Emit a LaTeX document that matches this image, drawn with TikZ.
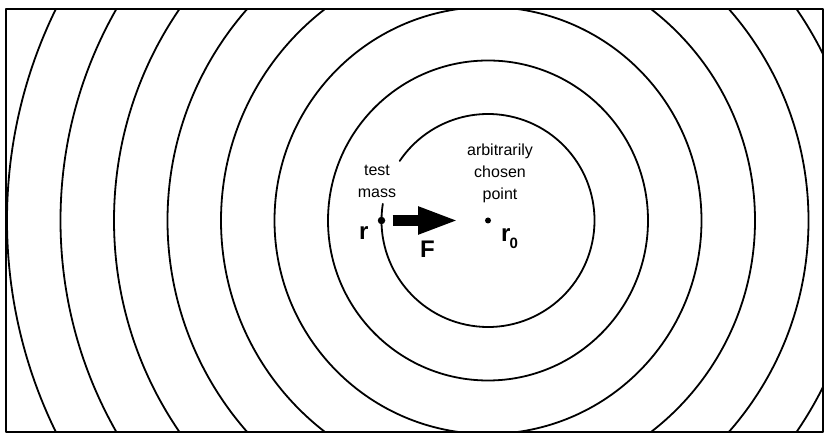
\documentclass[tikz,border=0pt]{standalone}
\usepackage{fontspec}
\setmainfont{Liberation Sans}
\usepackage{tikz}
\usetikzlibrary{arrows.meta,calc,positioning}
\tikzset{
  shell/.style={line width=1.8pt},
  dotm/.style={circle, fill, inner sep=0pt, minimum size=7.5pt},
  dotp/.style={circle, fill, inner sep=0pt, minimum size=6pt},
  lbl/.style={align=center, font=\fontsize{16}{22}\selectfont, inner sep=0pt},
  vec/.style={font=\fontsize{24}{24}\selectfont\bfseries, inner sep=0pt},
  every picture/.style={line cap=round, line join=round}
}

\begin{document}
\begin{tikzpicture}[x=1pt,y=1pt]
  \useasboundingbox (0,0) rectangle (824,433);
  \coordinate (C) at (488,212.5);

  % Frame
  \draw[line width=1.5pt] (6,1) rectangle (823,424);

  % Outer circles, clipped by the frame
  \begin{scope}
    \clip (6,1) rectangle (823,424);
    \foreach \k in {1,...,7}
      \draw[shell] (C) circle[radius=106.5+53.5*\k];
  \end{scope}

  % Inner circle, open under the label
  \draw[shell] ($(C)+(171:106.5)$) arc[start angle=171, end angle=506, radius=106.5];

  % Points
  \node[dotm] (mass) at ($(C)+(-106.5,0)$) {};
  \node[dotp] (pt) at (C) {};

  % Labels
  \node[lbl] (tm) at (377,252) {test\\mass};
  \node[lbl] (acp) at (500,259.5) {arbitrarily\\chosen\\point};
  \node[vec, anchor=base west] (rlab) at (359,193) {r};
  \node[vec, anchor=base west] (Flab) at (420,175) {F};
  \node[vec, anchor=base west] (r0lab) at (501,191) {r\kern-1pt\raisebox{-7pt}{\fontsize{15}{15}\selectfont 0}};

  % Force on the test mass
  \draw[line width=11pt, line cap=butt, -{Triangle[length=41pt,width=25pt]}]
    ([xshift=11pt]mass.center) -- ([xshift=-29pt]pt.center);
\end{tikzpicture}
\end{document}
